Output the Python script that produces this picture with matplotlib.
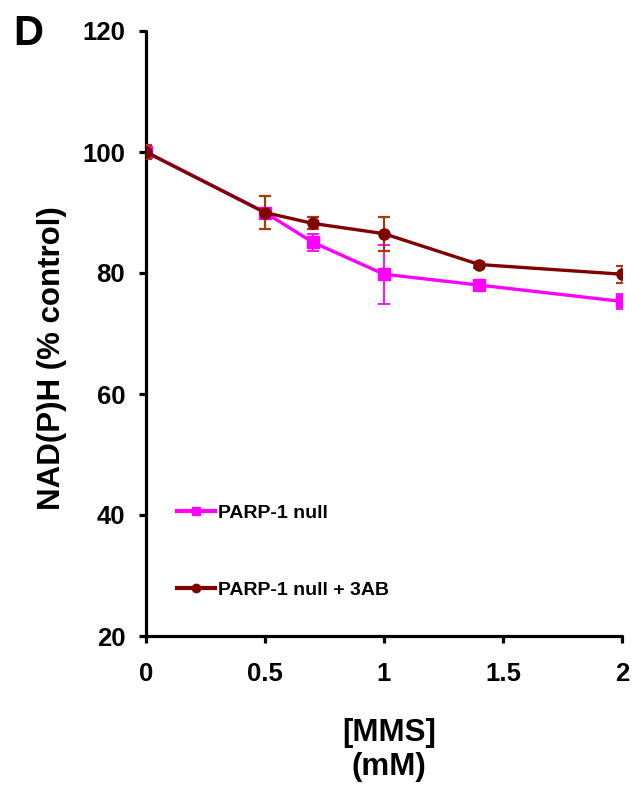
import matplotlib
matplotlib.use("Agg")
import matplotlib.pyplot as plt
from matplotlib.lines import Line2D

plt.rcParams['font.family'] = ['Liberation Sans', 'DejaVu Sans']
plt.rcParams['font.weight'] = 'bold'

mms = [0, 0.5, 0.7, 1.0, 1.4, 2.0]
null_vals = [100, 90.0, 85.1, 79.8, 78.0, 75.3]
null_err = [0.8, 0.8, 1.4, 4.9, 0.5, 1.3]
ab_vals = [100, 90.0, 88.2, 86.5, 81.4, 79.8]
ab_err = [1.2, 2.75, 1.0, 2.8, 0.5, 1.4]
labels = ['PARP-1 null', 'PARP-1 null + 3AB']
xticks = [0, 0.5, 1, 1.5, 2]
xticklabels = ['0', '0.5', '1', '1.5', '2']
yticks = [20, 40, 60, 80, 100, 120]

c_null = '#FF00FF'
c_ab = '#800000'
c_ab_err = '#A33B0B'

W, H = 634, 786
fig = plt.figure(figsize=(W / 100, H / 100), dpi=100)
ax = fig.add_axes([146 / W, 1 - 636 / H, 476 / W, 605 / H])

ax.errorbar(mms, null_vals, yerr=null_err, color=c_null, lw=2.4, marker='s', ms=8,
            ecolor=c_null, elinewidth=1.3, capsize=4, capthick=1.3, zorder=3)
ax.errorbar(mms, ab_vals, yerr=ab_err, color=c_ab, lw=2.4, marker='o', ms=8,
            ecolor=c_ab_err, elinewidth=1.6, capsize=4, capthick=1.6, zorder=4)

ax.set_xlim(0, 2)
ax.set_ylim(20, 120)
ax.set_xticks(xticks)
ax.set_xticklabels(xticklabels)
ax.set_yticks(yticks)
for s in ['top', 'right']:
    ax.spines[s].set_visible(False)
for s in ['left', 'bottom']:
    ax.spines[s].set_linewidth(2.3)
    ax.spines[s].set_capstyle('round')
ax.tick_params(axis='both', direction='out', length=5, width=2.3, labelsize=18.5)
ax.tick_params(axis='y', pad=10)
ax.tick_params(axis='x', pad=14)
for lbl in ax.get_xticklabels() + ax.get_yticklabels():
    lbl.set_fontweight('bold')

fig.text(52 / W, 1 - 358 / H, 'NAD(P)H (% control)', fontsize=22.5, fontweight='bold',
         rotation=90, ha='center', va='center')
fig.text(389 / W, 1 - 750 / H, '[MMS]\n(mM)', fontsize=22.5, fontweight='bold',
         ha='center', va='center', multialignment='center', linespacing=1.2)

handles = [Line2D([], [], color=c_null, lw=3, marker='s', ms=6),
           Line2D([], [], color=c_ab, lw=3, marker='o', ms=6)]
ax.legend(handles, labels, loc='center left', bbox_to_anchor=(0.065, 0.1397), frameon=False,
          prop={'size': 14, 'weight': 'bold'}, handlelength=1.96, handletextpad=0.15,
          labelspacing=3.05, borderpad=0, borderaxespad=0)

fig.text(13 / W, 1 - 34 / H, 'D', fontsize=30, fontweight='bold', va='center', ha='left')

fig.savefig('out.png', dpi=100)
